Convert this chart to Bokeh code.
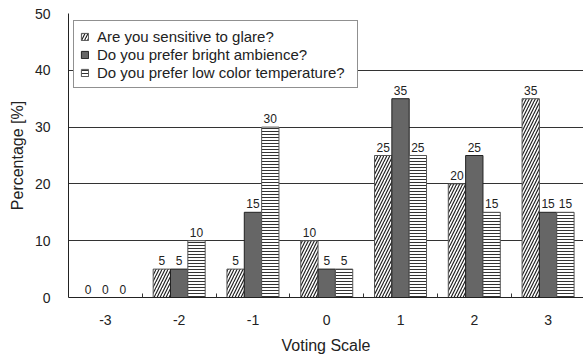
from bokeh.plotting import figure
from bokeh.models import ColumnDataSource, FixedTicker, Legend, LegendItem
from bokeh.transform import dodge
from bokeh.core.properties import value
from bokeh.embed import file_html
from bokeh.resources import INLINE

categories = ["-3", "-2", "-1", "0", "1", "2", "3"]
glare = [0, 5, 5, 10, 25, 20, 35]
bright = [0, 5, 15, 5, 35, 25, 15]
lowct = [0, 10, 30, 5, 25, 15, 15]
series_names = ["Are you sensitive to glare?",
                "Do you prefer bright ambience?",
                "Do you prefer low color temperature?"]
y_ticks = [0, 10, 20, 30, 40, 50]

idx = list(range(len(categories)))
src = ColumnDataSource(dict(x=idx, glare=glare, bright=bright, lowct=lowct,
                            glare_t=[str(v) for v in glare],
                            bright_t=[str(v) for v in bright],
                            lowct_t=[str(v) for v in lowct]))

FONT = "Liberation Sans"
TXT = "#222222"

p = figure(width=583, height=359, output_backend="svg", toolbar_location=None,
           x_range=(-0.5, 6.48), y_range=(0, 50),
           min_border_left=68, min_border_right=0, min_border_top=13, min_border_bottom=62)
p.outline_line_color = None
p.background_fill_color = "white"

p.xgrid.grid_line_color = None
p.ygrid.grid_line_color = "#333333"
p.ygrid.ticker = FixedTicker(ticks=[10, 20, 30, 40, 50])

W = 0.235
r1 = p.vbar(x=dodge("x", -W, range=p.x_range), top="glare", width=W, source=src,
            fill_color="white", line_color="#555555", hatch_pattern="/",
            hatch_color="#222222", hatch_scale=6, hatch_weight=1.2)
r2 = p.vbar(x=dodge("x", 0, range=p.x_range), top="bright", width=W, source=src,
            fill_color="#666666", line_color="#222222")
r3 = p.vbar(x=dodge("x", W, range=p.x_range), top="lowct", width=W, source=src,
            fill_color="white", line_color="#555555", hatch_pattern="-",
            hatch_color="#333333", hatch_scale=3, hatch_weight=1)

for off, col in [(-W, "glare"), (0, "bright"), (W, "lowct")]:
    p.text(x=dodge("x", off, range=p.x_range), y=col, text=col + "_t", source=src,
           text_align="center", text_baseline="bottom", y_offset=-4,
           text_font=value(FONT), text_font_size="12px", text_color=TXT)

# axes
xa = p.xaxis[0]
xa.ticker = FixedTicker(ticks=idx, minor_ticks=[i + 0.5 for i in idx[:-1]])
xa.major_label_overrides = {i: c for i, c in zip(idx, categories)}
xa.major_tick_in = 0
xa.major_tick_out = 0
xa.minor_tick_in = 4
xa.minor_tick_out = 0
xa.minor_tick_line_color = "#333333"
xa.axis_line_color = "#222222"
xa.major_label_standoff = 17
xa.axis_label = "Voting Scale"
xa.axis_label_standoff = 9

ya = p.yaxis[0]
ya.ticker = FixedTicker(ticks=y_ticks)
ya.major_tick_in = 0
ya.major_tick_out = 0
ya.minor_tick_line_color = None
ya.axis_line_color = "#222222"
ya.major_label_standoff = 18
ya.axis_label = "Percentage [%]"
ya.axis_label_standoff = 6

for ax in (xa, ya):
    ax.major_label_text_font = FONT
    ax.major_label_text_font_size = "14px"
    ax.major_label_text_color = TXT
    ax.axis_label_text_font = FONT
    ax.axis_label_text_font_size = "16px"
    ax.axis_label_text_font_style = "normal"
    ax.axis_label_text_color = TXT

legend = Legend(items=[LegendItem(label=series_names[0], renderers=[r1]),
                       LegendItem(label=series_names[1], renderers=[r2]),
                       LegendItem(label=series_names[2], renderers=[r3])],
                location=(5, 209))
legend.label_text_font = FONT
legend.label_text_font_size = "15px"
legend.label_text_color = TXT
legend.glyph_width = 9
legend.glyph_height = 9
legend.label_height = 18
legend.label_width = 254
legend.label_standoff = 8
legend.padding = 6
legend.spacing = 0
legend.margin = 0
legend.border_line_color = "#222222"
legend.background_fill_alpha = 1
p.add_layout(legend)

open("out.html", "w").write(file_html(p, INLINE))
